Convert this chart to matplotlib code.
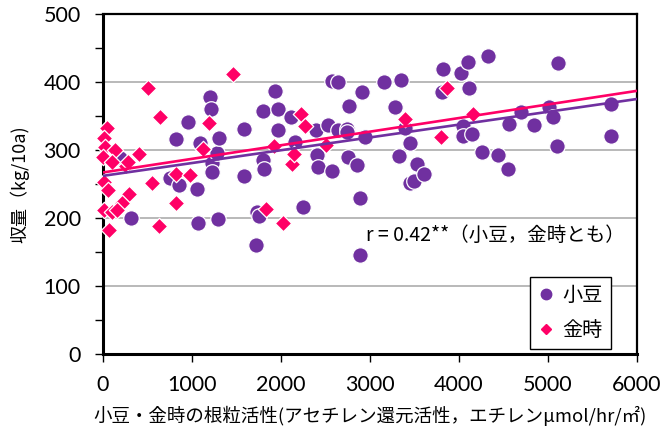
import matplotlib
matplotlib.use("Agg")
import matplotlib.pyplot as plt
from matplotlib.lines import Line2D

# ---- data ----
azuki_x = [191, 315, 753, 820, 854, 950, 1056, 1067, 1095, 1202, 1213, 1225, 1225, 1286, 1304,
           1292, 1584, 1584, 1719, 1730, 1748, 1798, 1798, 1805, 1933, 1966, 1966, 2107, 2157,
           2247, 2388, 2404, 2416, 2528, 2573, 2640, 2573, 2635, 2742, 2742, 2764, 2748, 2854,
           2888, 2888, 2905, 2940, 3157, 3281, 3326, 3348, 3393, 3449, 3449, 3494, 3528, 3607,
           3809, 3820, 4022, 4045, 4045, 4101, 4112, 4146, 4258, 4330, 4438, 4551, 4562, 4697,
           4843, 5011, 5056, 5101, 5112, 5708, 5708]
azuki_y = [288, 200, 259, 316, 248, 341, 242, 192, 310, 378, 361, 281, 268, 296, 318,
           199, 331, 262, 160, 209, 203, 357, 285, 272, 387, 360, 329, 349, 312,
           216, 330, 293, 275, 337, 401, 400, 269, 329, 331, 327, 364, 289, 278,
           230, 146, 386, 319, 400, 363, 291, 403, 332, 310, 251, 254, 279, 265,
           385, 419, 413, 335, 321, 429, 391, 323, 297, 438, 293, 272, 338, 356,
           337, 363, 349, 306, 428, 368, 321]

kintoki_x = [45, 10, 22, 140, 5, 106, 258, 281, 410, 506, 635, 11, 56, 551, 292, 213, 825,
             825, 978, 11, 106, 157, 67, 624, 1124, 1191, 1460, 1831, 2022, 1921, 2124, 2146,
             2225, 2270, 2506, 3393, 3798, 3865, 4157]
kintoki_y = [332, 318, 304, 300, 290, 282, 277, 282, 294, 391, 349, 253, 241, 252, 235, 222, 222,
             265, 263, 212, 209, 212, 182, 188, 301, 340, 412, 213, 192, 306, 280, 294,
             353, 336, 308, 346, 319, 391, 353]

trend_x = [0, 6000]
azuki_trend = [262, 375]
kintoki_trend = [267, 387]

x_ticks = [0, 1000, 2000, 3000, 4000, 5000, 6000]
y_ticks = [0, 100, 200, 300, 400, 500]
y_minor = [50, 150, 250, 350, 450]

labels = ["小豆", "金時"]
xlabel = "小豆・金時の根粒活性(アセチレン還元活性，エチレンμmol/hr/㎡)"
ylabel = "収量（kg/10a)"
note = "r = 0.42**（小豆，金時とも）"

PURPLE = "#7030A0"
PINK = "#FF0066"
JP = ["Noto Sans CJK JP", "DejaVu Sans"]
NUM = ["Lato", "DejaVu Sans"]

fig = plt.figure(figsize=(6.62, 4.37), dpi=100)
ax = fig.add_axes([103/662, 83/437, 534/662, 340/437])

ax.set_xlim(0, 6000)
ax.set_ylim(0, 500)

for yv in y_ticks[1:-1]:
    ax.axhline(yv, color="#A6A6A6", lw=1.1, zorder=1)

ax.scatter(azuki_x, azuki_y, s=125, marker="o", color=PURPLE, edgecolors="white",
           linewidths=0.9, zorder=3, clip_on=False)
ax.scatter(kintoki_x, kintoki_y, s=70, marker="D", color=PINK, edgecolors="white",
           linewidths=0.9, zorder=4, clip_on=False)

ax.plot(trend_x, azuki_trend, color=PURPLE, lw=1.9, zorder=5, solid_capstyle="butt")
ax.plot(trend_x, kintoki_trend, color=PINK, lw=1.9, zorder=5, solid_capstyle="butt")

ax.set_xticks(x_ticks)
ax.set_yticks(y_ticks)
ax.set_yticks(y_minor, minor=True)
ax.tick_params(axis="both", which="both", direction="out", length=6, width=1.0, color="black")
ax.tick_params(axis="y", which="major", pad=10)
ax.tick_params(axis="x", which="major", pad=9)
for lab in ax.get_xticklabels() + ax.get_yticklabels():
    lab.set_fontfamily(NUM)
    lab.set_fontsize(15.5)

for side in ["left", "bottom"]:
    ax.spines[side].set_linewidth(2.2)
for side in ["top", "right"]:
    ax.spines[side].set_linewidth(1.6)

ax.set_xlabel(xlabel, fontfamily=JP, fontsize=13.3, labelpad=8)
ax.set_ylabel(ylabel, fontfamily=JP, fontsize=13, labelpad=10)

ax.text(2955, 175, note, fontfamily=JP, fontsize=14, ha="left", va="center", zorder=6)

handles = [Line2D([], [], marker="o", ls="none", color=PURPLE, markersize=7.5),
           Line2D([], [], marker="D", ls="none", color=PINK, markersize=5)]
leg = ax.legend(handles, labels, loc="upper right", bbox_to_anchor=(0.951, 0.2265),
                borderaxespad=0, frameon=True, fancybox=False, edgecolor="black",
                framealpha=1, prop={"family": JP, "size": 14.5}, handlelength=0.8,
                handletextpad=0.4, labelspacing=0.7, borderpad=0.4)
leg.get_frame().set_linewidth(1.0)
leg.set_zorder(7)

fig.savefig("out.png", dpi=100)
